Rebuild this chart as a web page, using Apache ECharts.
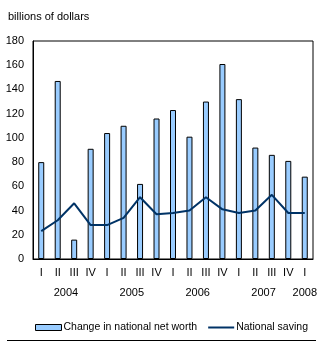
<!DOCTYPE html>
<html>
<head>
<meta charset="utf-8">
<script src="https://cdn.jsdelivr.net/npm/echarts@6/dist/echarts.min.js"></script>
<style>
  html, body { margin: 0; padding: 0; background: #fff; }
  #main { width: 321px; height: 347px; }
</style>
</head>
<body>
<div id="main"></div>
<script>
// quarters 2004 I .. 2008 I
var quarters = ['I', 'II', 'III', 'IV', 'I', 'II', 'III', 'IV', 'I', 'II', 'III', 'IV', 'I', 'II', 'III', 'IV', 'I'];
var yearOf = ['2004', '2004', '2004', '2004', '2005', '2005', '2005', '2005', '2006', '2006', '2006', '2006', '2007', '2007', '2007', '2007', '2008'];
var netWorth = [80, 147, 16, 91, 104, 110, 62, 116, 123, 101, 130, 161, 132, 92, 86, 81, 68];
var saving = [23, 32, 46, 28, 28, 34, 51, 37, 38, 40, 51, 41, 38, 40, 53, 38, 38];
var yTicks = [0, 20, 40, 60, 80, 100, 120, 140, 160, 180];

// centre of each year's quarters, in value units along the category axis
var yearPos = {};
yearOf.forEach(function (y, i) {
    if (!yearPos[y]) yearPos[y] = [];
    yearPos[y].push(i + 0.5);
});
var yearAt = {};
Object.keys(yearPos).forEach(function (y) {
    var p = yearPos[y];
    var c = p.reduce(function (a, b) { return a + b; }, 0) / p.length;
    yearAt[c.toFixed(1)] = y;
});

var font = 'Liberation Sans, Arial, sans-serif';
var myChart = echarts.init(document.getElementById('main'));
myChart.setOption({
    animation: false,
    textStyle: { fontFamily: font },
    grid: {
        left: 33, right: 8, top: 41, bottom: 88,
        show: true, borderColor: '#000', borderWidth: 1
    },
    graphic: [
        {
            type: 'text', left: 8, top: 11,
            style: { text: 'billions of dollars', font: '11px ' + font, fill: '#000' }
        },
        {
            type: 'line', shape: { x1: 7, y1: 340.5, x2: 316, y2: 340.5 },
            style: { stroke: '#000', lineWidth: 1 }
        }
    ],
    legend: {
        top: 317,
        left: 30,
        width: 300,
        itemWidth: 26,
        itemHeight: 6,
        itemGap: 10,
        textStyle: { fontSize: 10.5, color: '#000', fontFamily: font, padding: [0, 0, 0, -3] },
        data: [
            { name: 'Change in national net worth', icon: 'rect', itemStyle: { borderWidth: 1, borderColor: '#000' } },
            { name: 'National saving', itemStyle: { color: 'rgba(0,0,0,0)', borderWidth: 0 } }
        ]
    },
    xAxis: [
        {
            type: 'category',
            data: quarters,
            axisLine: { lineStyle: { color: '#000' } },
            axisTick: { inside: true, length: 2, lineStyle: { color: '#000' } },
            axisLabel: { color: '#000', fontSize: 11, margin: 8, interval: 0 }
        },
        {
            type: 'value',
            position: 'bottom',
            min: 0, max: 17, interval: 0.5,
            axisLine: { show: false },
            axisTick: { show: false },
            splitLine: { show: false },
            axisLabel: {
                color: '#000', fontSize: 11, margin: 28, showMinLabel: true, showMaxLabel: true,
                formatter: function (v) { return yearAt[v.toFixed(1)] || ''; }
            }
        }
    ],
    yAxis: {
        type: 'value',
        min: yTicks[0], max: yTicks[yTicks.length - 1], interval: 20,
        axisLine: { show: true, lineStyle: { color: '#000' } },
        axisTick: { show: false },
        splitLine: { show: false },
        axisLabel: { color: '#000', fontSize: 11, margin: 9 }
    },
    series: [
        {
            name: 'Change in national net worth',
            type: 'bar',
            data: netWorth,
            barWidth: 6,
            itemStyle: { color: '#99ccff', borderColor: '#000', borderWidth: 1 }
        },
        {
            name: 'National saving',
            type: 'line',
            data: saving,
            symbol: 'none',
            lineStyle: { color: '#003366', width: 2 },
            itemStyle: { color: '#003366' }
        }
    ]
});
</script>
</body>
</html>
